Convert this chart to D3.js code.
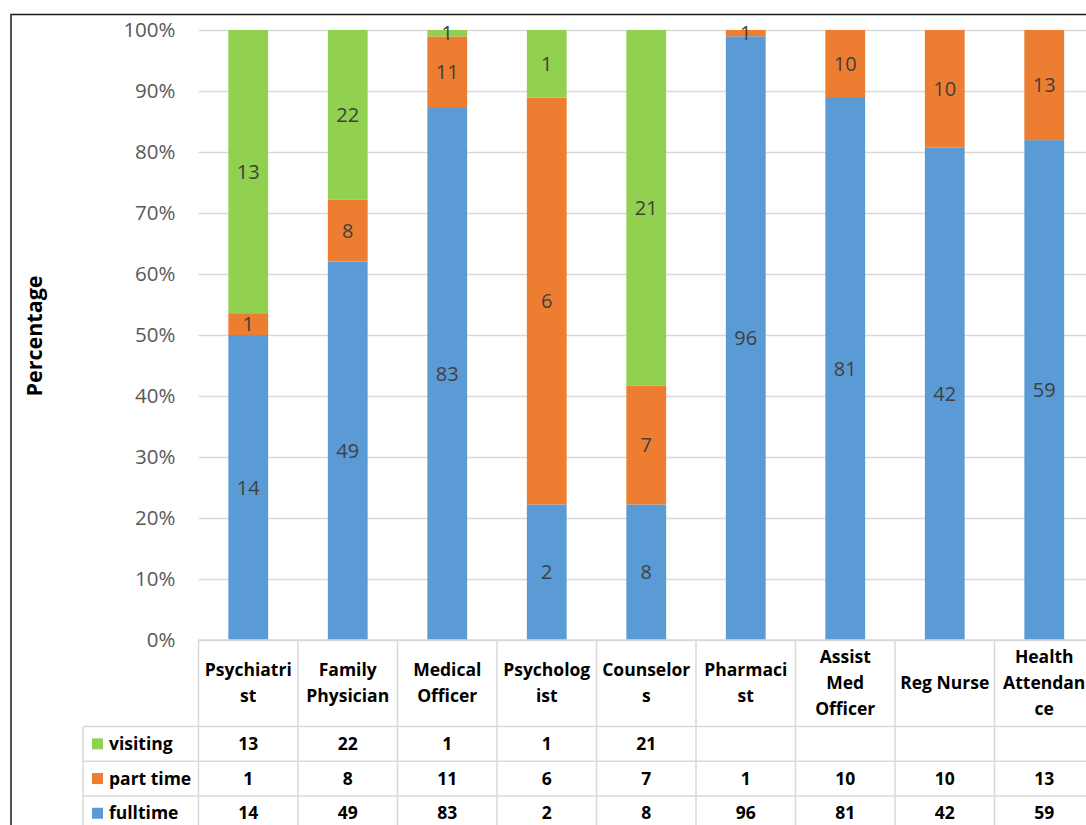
<!DOCTYPE html>
<html><head><meta charset="utf-8">
<script src="https://cdn.jsdelivr.net/npm/d3@7"></script>
<style>
html,body{margin:0;padding:0;background:#fff;}
svg{display:block;font-family:"Open Sans",sans-serif;}
</style></head>
<body><svg id="c" width="1086" height="825"></svg>
<script>
const categories = ["Psychiatrist","Family Physician","Medical Officer","Psychologist","Counselors","Pharmacist","Assist Med Officer","Reg Nurse","Health Attendance"];
const categoryLabelLines = [["Psychiatri","st"],["Family","Physician"],["Medical","Officer"],["Psycholog","ist"],["Counselor","s"],["Pharmaci","st"],["Assist","Med","Officer"],["Reg Nurse"],["Health","Attendan","ce"]];
const fulltime = [14,49,83,2,8,96,81,42,59];
const partTime = [1,8,11,6,7,1,10,10,13];
const visiting = [13,22,1,1,21,null,null,null,null];
const seriesNames = ["fulltime","part time","visiting"];
const seriesColors = ["#5B9BD5","#ED7D31","#92D050"];
const yTickValues = [0,0.1,0.2,0.3,0.4,0.5,0.6,0.7,0.8,0.9,1.0];
const yTitle = "Percentage";

(function(){
const svg = d3.select("#c");
const pLeft = 198.5, pRight = 1094, pTop = 30, pBottom = 640;
const rowH = 34.7, headerBottom = 726.5, legendLeft = 83;

const x = d3.scaleBand().domain(categories).range([pLeft,pRight]).paddingInner(0.6).paddingOuter(0.3);
const xCell = d3.scaleBand().domain(categories).range([pLeft,pRight]).padding(0);
const y = d3.scaleLinear().domain([0,1]).range([pBottom,pTop]);

const seriesVals = [fulltime, partTime, visiting];
const rows = categories.map((c,i)=>{const o={cat:c}; seriesNames.forEach((s,k)=>o[s]=seriesVals[k][i]||0); return o;});
const stacked = d3.stack().keys(seriesNames).offset(d3.stackOffsetExpand)(rows);

// outer chart border
svg.append("path").attr("d",`M11,830V14.5H1090`).attr("fill","none").attr("stroke","#1a1a1a").attr("stroke-width",1.5);

// gridlines
const yAxis = d3.axisLeft(y).tickValues(yTickValues).tickFormat(d3.format(".0%")).tickSize(-(pRight-pLeft)).tickPadding(23);
const ga = svg.append("g").attr("transform",`translate(${pLeft},0)`).call(yAxis);
ga.select(".domain").remove();
ga.selectAll(".tick line").attr("stroke","#d9d9d9").attr("stroke-width",1.3);
ga.selectAll(".tick text").attr("fill","#595959").style("font-size","20.5px").style("font-family","Open Sans");

// bars
const g = svg.append("g");
stacked.forEach((s,k)=>{
  g.selectAll(null).data(s).enter().append("rect")
    .attr("x",d=>x(d.data.cat)).attr("width",x.bandwidth())
    .attr("y",d=>y(d[1])).attr("height",d=>Math.max(0,y(d[0])-y(d[1])))
    .attr("fill",seriesColors[k]);
});
stacked.forEach((s,k)=>{
  g.selectAll(null).data(s.filter(d=>d.data[seriesNames[k]]>0)).enter().append("text")
    .attr("x",d=>x(d.data.cat)+x.bandwidth()/2).attr("y",d=>y((d[0]+d[1])/2))
    .attr("dy","0.35em").attr("text-anchor","middle").attr("fill","#404040")
    .style("font-size","20px").text(d=>d.data[seriesNames[k]]);
});

// y title
svg.append("text").attr("transform","translate(42,336) rotate(-90)").attr("text-anchor","middle")
  .style("font-size","21.5px").style("font-weight","bold").attr("fill","#000").text(yTitle);

// data table
const tg = svg.append("g").attr("stroke","#d9d9d9").attr("stroke-width",1.5);
tg.append("line").attr("x1",pLeft).attr("x2",pRight).attr("y1",pBottom).attr("y2",pBottom);
categories.forEach(c=>{
  tg.append("line").attr("x1",xCell(c)).attr("x2",xCell(c)).attr("y1",pBottom).attr("y2",830);
});
tg.append("line").attr("x1",pRight).attr("x2",pRight).attr("y1",pBottom).attr("y2",830);
tg.append("line").attr("x1",legendLeft).attr("x2",legendLeft).attr("y1",headerBottom).attr("y2",830);
for(let r=0;r<4;r++){
  tg.append("line").attr("x1",legendLeft).attr("x2",pRight).attr("y1",headerBottom+r*rowH).attr("y2",headerBottom+r*rowH);
}
// header labels
categories.forEach((c,i)=>{
  const lines = categoryLabelLines[i];
  const t = svg.append("text").attr("text-anchor","middle").attr("fill","#000")
    .style("font-size","17.5px").style("font-weight","bold");
  lines.forEach((ln,j)=>{
    t.append("tspan").attr("x",xCell(c)+xCell.bandwidth()/2)
      .attr("y",683+(j-(lines.length-1)/2)*26).attr("dy","0.35em").text(ln);
  });
});
// rows: visiting, part time, fulltime
const tableOrder = [2,1,0];
tableOrder.forEach((k,r)=>{
  const cy = headerBottom + r*rowH + rowH/2;
  svg.append("rect").attr("x",92).attr("y",cy-5.5).attr("width",11).attr("height",11).attr("fill",seriesColors[k]);
  svg.append("text").attr("x",109).attr("y",cy).attr("dy","0.35em").style("font-size","17.5px").style("font-weight","bold").text(seriesNames[k]);
  categories.forEach((c,i)=>{
    const v = seriesVals[k][i];
    if(v==null) return;
    svg.append("text").attr("x",xCell(c)+xCell.bandwidth()/2).attr("y",cy).attr("dy","0.35em")
      .attr("text-anchor","middle").style("font-size","17.5px").style("font-weight","bold").text(v);
  });
});
})();
</script></body></html>
